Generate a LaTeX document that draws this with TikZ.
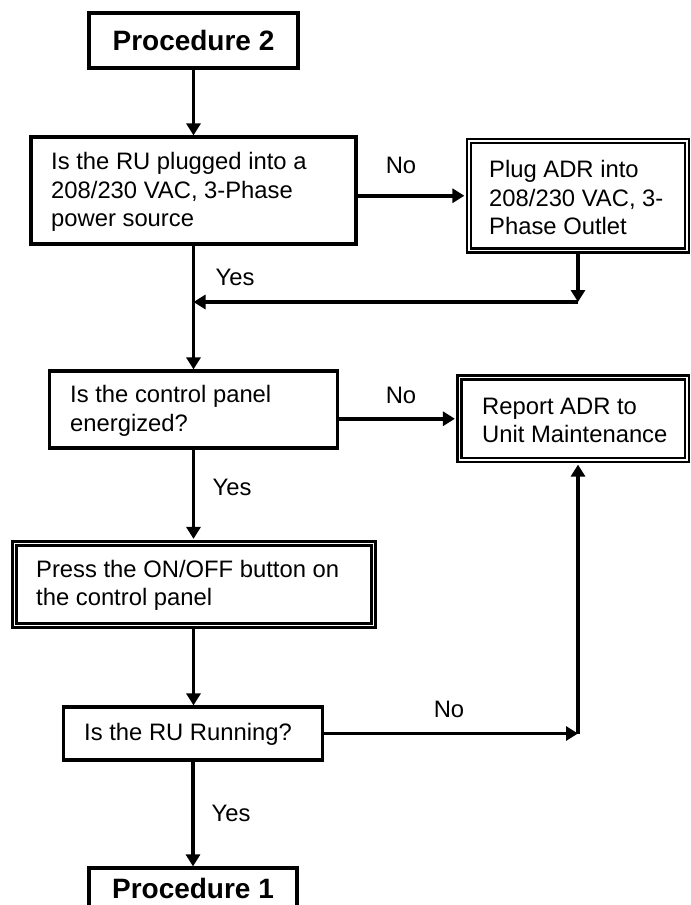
\documentclass[tikz,border=0pt]{standalone}
\usepackage{fontspec}
\setmainfont{Liberation Sans}
\usetikzlibrary{arrows.meta,calc}
\begin{document}
\begin{tikzpicture}[x=1bp,y=-1bp,
  box/.style={draw, line width=3.2bp, inner sep=0, rectangle},
  dbox/.style={draw, line width=2.6bp, double, double distance=1.5bp, inner sep=0, rectangle},
  txt/.style={anchor=west, align=left, inner sep=0, font=\fontsize{23.8bp}{28.5bp}\selectfont},
  title/.style={inner sep=0, font=\fontsize{28bp}{33bp}\selectfont\bfseries},
  lbl/.style={inner sep=0, font=\fontsize{23.8bp}{28.5bp}\selectfont},
  arr/.style={line width=3.6bp, -{Triangle[length=12bp,width=14bp]}}]
\useasboundingbox (0,0) rectangle (691,905);
% boxes
\node[box, title, minimum width=209bp, minimum height=55bp] (p2) at (193.5,40.5) {Procedure 2};
\node[box, minimum width=325bp, minimum height=107bp] (b2) at (193.5,190.5) {};
\node[txt] (b2t) at (51,192) {Is the RU plugged into a\\208/230 VAC, 3-Phase\\power source};
\node[dbox, minimum width=218bp, minimum height=109.5bp] (b3) at (578,195.75) {};
\node[txt] (b3t) at (489,197.5) {Plug ADR into\\208/230 VAC, 3-\\Phase Outlet};
\node[box, minimum width=288bp, minimum height=77bp] (b4) at (193.5,409.5) {};
\node[txt] (b4t) at (70,411) {Is the control panel\\energized?};
\node[dbox, minimum width=227.5bp, minimum height=82.5bp] (b5) at (573.25,418.75) {};
\node[txt] (b5t) at (482,420.5) {Report ADR to\\Unit Maintenance};
\node[dbox, minimum width=359bp, minimum height=82bp] (b6) at (194,584.5) {};
\node[txt] (b6t) at (36,585.5) {Press the ON/OFF button on\\the control panel};
\node[box, minimum width=259bp, minimum height=53bp] (b7) at (193,733.5) {};
\node[txt] (b7t) at (84,734) {Is the RU Running?};
\node[box, minimum width=208bp, minimum height=55bp] (p1) at (193,895.5) {};
\node[title] (p1t) at (193,888) {Procedure 1};
% labels
\node[lbl] (no1) at (401,165) {No};
\node[lbl] (no2) at (401,395) {No};
\node[lbl] (no3) at (449,709) {No};
\node[lbl] (yes1) at (235,277) {Yes};
\node[lbl] (yes2) at (232,487) {Yes};
\node[lbl] (yes3) at (231,813) {Yes};
% coordinates
\coordinate (m1) at (578,302);
\coordinate (m2) at (193.5,302);
\coordinate (c1) at (578,733.5);
% connectors
\draw[arr] (p2.south) -- (b2.north);
\draw[arr, shorten >=3.3bp] (b2.east |- b3.west) -- (b3.west);
\draw[arr] (b3.south) -- (m1);
\draw[arr] (m1) -- (m2);
\draw[arr] (b2.south) -- (b2.south |- b4.north);
\draw[arr, shorten >=3.3bp] (b4.east |- b5.west) -- (b5.west);
\draw[arr, shorten >=3.3bp] (b4.south) -- (b4.south |- b6.north);
\draw[arr] (b4.south |- b6.south) -- (b4.south |- b7.north);
\draw[arr] (b7.east) -- (c1);
\draw[arr, shorten >=3.3bp] (c1) -- (c1 |- b5.south);
\draw[arr] (b7.south) -- (b7.south |- p1.north);
\end{tikzpicture}
\end{document}
